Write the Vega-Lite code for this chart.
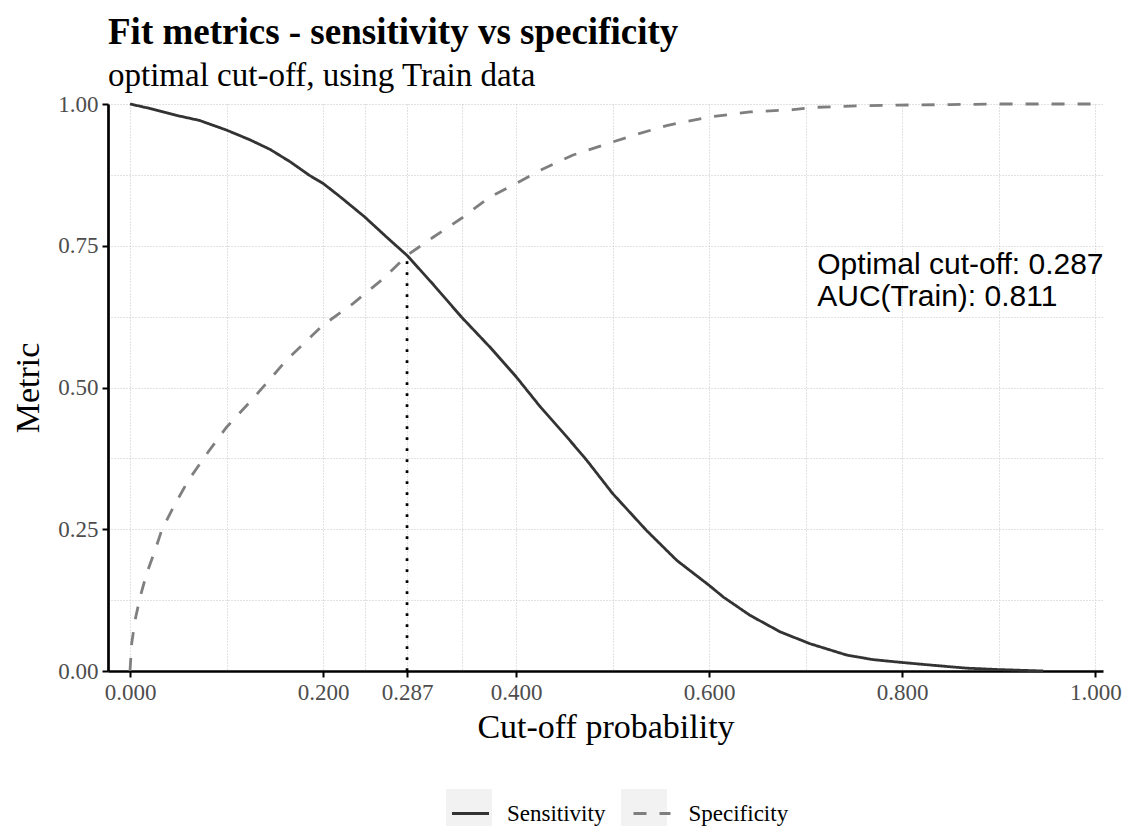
{
  "$schema": "https://vega.github.io/schema/vega-lite/v6.json",
  "autosize": {"type": "none"},
  "width": 995,
  "height": 567,
  "padding": {"left": 108, "top": 104, "right": 32, "bottom": 155},
  "background": "white",
  "config": {
    "view": {"stroke": null},
    "font": "Liberation Serif"
  },
  "title": {
    "text": "Fit metrics - sensitivity vs specificity",
    "subtitle": "optimal cut-off, using Train data",
    "anchor": "start",
    "frame": "group",
    "font": "Liberation Serif",
    "fontSize": 37,
    "fontWeight": "bold",
    "color": "black",
    "subtitleFont": "Liberation Serif",
    "subtitleFontSize": 33,
    "subtitleColor": "black",
    "subtitlePadding": 8,
    "offset": -1
  },
  "datasets": {
    "curves": [
      {"cutoff": 0.0, "metric": "Sensitivity", "value": 1.0},
      {"cutoff": 0.021, "metric": "Sensitivity", "value": 0.992},
      {"cutoff": 0.048, "metric": "Sensitivity", "value": 0.98},
      {"cutoff": 0.072, "metric": "Sensitivity", "value": 0.971},
      {"cutoff": 0.1, "metric": "Sensitivity", "value": 0.954},
      {"cutoff": 0.124, "metric": "Sensitivity", "value": 0.937},
      {"cutoff": 0.145, "metric": "Sensitivity", "value": 0.92},
      {"cutoff": 0.166, "metric": "Sensitivity", "value": 0.898},
      {"cutoff": 0.186, "metric": "Sensitivity", "value": 0.874},
      {"cutoff": 0.2, "metric": "Sensitivity", "value": 0.86},
      {"cutoff": 0.218, "metric": "Sensitivity", "value": 0.836},
      {"cutoff": 0.243, "metric": "Sensitivity", "value": 0.801},
      {"cutoff": 0.266, "metric": "Sensitivity", "value": 0.765},
      {"cutoff": 0.287, "metric": "Sensitivity", "value": 0.733},
      {"cutoff": 0.314, "metric": "Sensitivity", "value": 0.682},
      {"cutoff": 0.343, "metric": "Sensitivity", "value": 0.625},
      {"cutoff": 0.373, "metric": "Sensitivity", "value": 0.571},
      {"cutoff": 0.4, "metric": "Sensitivity", "value": 0.519},
      {"cutoff": 0.425, "metric": "Sensitivity", "value": 0.466},
      {"cutoff": 0.4525, "metric": "Sensitivity", "value": 0.413},
      {"cutoff": 0.473, "metric": "Sensitivity", "value": 0.372},
      {"cutoff": 0.5, "metric": "Sensitivity", "value": 0.313},
      {"cutoff": 0.535, "metric": "Sensitivity", "value": 0.248},
      {"cutoff": 0.5665, "metric": "Sensitivity", "value": 0.195},
      {"cutoff": 0.6, "metric": "Sensitivity", "value": 0.151},
      {"cutoff": 0.615, "metric": "Sensitivity", "value": 0.13},
      {"cutoff": 0.6425, "metric": "Sensitivity", "value": 0.098},
      {"cutoff": 0.6736, "metric": "Sensitivity", "value": 0.069},
      {"cutoff": 0.7047, "metric": "Sensitivity", "value": 0.048},
      {"cutoff": 0.7427, "metric": "Sensitivity", "value": 0.028},
      {"cutoff": 0.77, "metric": "Sensitivity", "value": 0.02},
      {"cutoff": 0.8, "metric": "Sensitivity", "value": 0.015},
      {"cutoff": 0.8325, "metric": "Sensitivity", "value": 0.01},
      {"cutoff": 0.867, "metric": "Sensitivity", "value": 0.005},
      {"cutoff": 0.9, "metric": "Sensitivity", "value": 0.0025},
      {"cutoff": 0.946, "metric": "Sensitivity", "value": 0.0},
      {"cutoff": 0.0, "metric": "Specificity", "value": 0.0},
      {"cutoff": 0.0017, "metric": "Specificity", "value": 0.048},
      {"cutoff": 0.0052, "metric": "Specificity", "value": 0.089},
      {"cutoff": 0.0104, "metric": "Specificity", "value": 0.13},
      {"cutoff": 0.0173, "metric": "Specificity", "value": 0.172},
      {"cutoff": 0.026, "metric": "Specificity", "value": 0.213},
      {"cutoff": 0.0328, "metric": "Specificity", "value": 0.248},
      {"cutoff": 0.0449, "metric": "Specificity", "value": 0.289},
      {"cutoff": 0.0604, "metric": "Specificity", "value": 0.336},
      {"cutoff": 0.0795, "metric": "Specificity", "value": 0.383},
      {"cutoff": 0.1, "metric": "Specificity", "value": 0.43},
      {"cutoff": 0.124, "metric": "Specificity", "value": 0.474},
      {"cutoff": 0.138, "metric": "Specificity", "value": 0.501},
      {"cutoff": 0.162, "metric": "Specificity", "value": 0.548},
      {"cutoff": 0.2, "metric": "Specificity", "value": 0.61},
      {"cutoff": 0.231, "metric": "Specificity", "value": 0.648},
      {"cutoff": 0.2625, "metric": "Specificity", "value": 0.692},
      {"cutoff": 0.287, "metric": "Specificity", "value": 0.733},
      {"cutoff": 0.314, "metric": "Specificity", "value": 0.765},
      {"cutoff": 0.343, "metric": "Specificity", "value": 0.798},
      {"cutoff": 0.373, "metric": "Specificity", "value": 0.836},
      {"cutoff": 0.4, "metric": "Specificity", "value": 0.86},
      {"cutoff": 0.425, "metric": "Specificity", "value": 0.883},
      {"cutoff": 0.459, "metric": "Specificity", "value": 0.91},
      {"cutoff": 0.5, "metric": "Specificity", "value": 0.933},
      {"cutoff": 0.522, "metric": "Specificity", "value": 0.945},
      {"cutoff": 0.556, "metric": "Specificity", "value": 0.962},
      {"cutoff": 0.6, "metric": "Specificity", "value": 0.977},
      {"cutoff": 0.6425, "metric": "Specificity", "value": 0.986},
      {"cutoff": 0.687, "metric": "Specificity", "value": 0.99},
      {"cutoff": 0.708, "metric": "Specificity", "value": 0.994},
      {"cutoff": 0.76, "metric": "Specificity", "value": 0.997},
      {"cutoff": 0.795, "metric": "Specificity", "value": 0.998},
      {"cutoff": 0.85, "metric": "Specificity", "value": 0.999},
      {"cutoff": 0.9, "metric": "Specificity", "value": 1.0},
      {"cutoff": 1.0, "metric": "Specificity", "value": 1.0}
    ],
    "legend_keys": [
      {"key": "Sensitivity"},
      {"key": "Specificity"}
    ],
    "optimal": [
      {"cutoff": 0.287, "low": 0.0, "high": 0.733, "label": "Optimal cut-off: 0.287\nAUC(Train): 0.811", "label_x": 0.712, "label_y": 0.7155}
    ]
  },
  "layer": [
    {
      "data": {"name": "legend_keys"},
      "mark": {"type": "point", "filled": true, "shape": "square", "color": "#f2f2f2", "opacity": 0},
      "encoding": {
        "shape": {
          "field": "key",
          "type": "nominal",
          "scale": {"range": ["square", "square"]},
          "legend": {
            "title": null,
            "orient": "none",
            "legendX": 338,
            "legendY": 685,
            "zindex": 0,
            "direction": "horizontal",
            "symbolType": "square",
            "symbolSize": 2116,
            "symbolFillColor": "#f2f2f2",
            "symbolStrokeColor": "#f2f2f2",
            "symbolStrokeWidth": 0,
            "symbolOpacity": 1,
            "labelExpr": "''",
            "labelFont": "Liberation Serif",
            "labelFontSize": 23,
            "labelOffset": 0,
            "columnPadding": 129
          }
        }
      }
    },
    {
      "data": {"name": "curves"},
      "mark": {"type": "line", "strokeWidth": 2.8, "interpolate": "linear"},
      "encoding": {
        "x": {
          "field": "cutoff",
          "type": "quantitative",
          "title": "Cut-off probability",
          "scale": {"domain": [-0.0228, 1.008], "nice": false, "zero": false},
          "axis": {
            "values": [0, 0.1, 0.2, 0.2435, 0.287, 0.3435, 0.4, 0.5, 0.6, 0.7, 0.8, 0.9, 1.0],
            "labelExpr": "indexof([0, 0.2, 0.287, 0.4, 0.6, 0.8, 1], datum.value) >= 0 ? format(datum.value, '.3f') : ''",
            "tickOpacity": {"condition": {"test": "indexof([0, 0.2, 0.287, 0.4, 0.6, 0.8, 1], datum.value) >= 0", "value": 1}, "value": 0},
            "grid": true,
            "gridColor": "#c4c4c4",
            "gridDash": [1, 2],
            "gridWidth": 1,
            "domainColor": "black",
            "domainWidth": 2.7,
            "tickColor": "black",
            "tickWidth": 2,
            "tickSize": 6,
            "labelFont": "Liberation Serif",
            "labelFontSize": 23,
            "labelColor": "#4d4d4d",
            "labelPadding": 4,
            "labelFlush": false,
            "labelOverlap": false,
            "titleFont": "Liberation Serif",
            "titleFontSize": 34,
            "titleFontWeight": "normal",
            "titleColor": "black",
            "titlePadding": 6
          }
        },
        "y": {
          "field": "value",
          "type": "quantitative",
          "title": "Metric",
          "scale": {"domain": [0, 1], "nice": false},
          "axis": {
            "values": [0, 0.125, 0.25, 0.375, 0.5, 0.625, 0.75, 0.875, 1.0],
            "labelExpr": "indexof([0, 0.25, 0.5, 0.75, 1], datum.value) >= 0 ? format(datum.value, '.2f') : ''",
            "tickOpacity": {"condition": {"test": "indexof([0, 0.25, 0.5, 0.75, 1], datum.value) >= 0", "value": 1}, "value": 0},
            "grid": true,
            "gridColor": "#c4c4c4",
            "gridDash": [1, 2],
            "gridWidth": 1,
            "domainColor": "black",
            "domainWidth": 2.7,
            "tickColor": "black",
            "tickWidth": 2,
            "tickSize": 6,
            "labelFont": "Liberation Serif",
            "labelFontSize": 23,
            "labelColor": "#4d4d4d",
            "labelPadding": 4,
            "labelFlush": false,
            "labelOverlap": false,
            "titleFont": "Liberation Serif",
            "titleFontSize": 34,
            "titleFontWeight": "normal",
            "titleColor": "black",
            "titlePadding": 12
          }
        },
        "color": {
          "field": "metric",
          "type": "nominal",
          "scale": {"domain": ["Sensitivity", "Specificity"], "range": ["#333333", "#7f7f7f"]},
          "legend": {
            "title": null,
            "orient": "none",
            "legendX": 342.5,
            "legendY": 689.5,
            "zindex": 1,
            "direction": "horizontal",
            "symbolType": "stroke",
            "symbolSize": 1369,
            "symbolStrokeWidth": 2.8,
            "labelFont": "Liberation Serif",
            "labelFontSize": 23,
            "labelColor": "black",
            "labelOffset": 16.5,
            "columnPadding": 21.5
          }
        },
        "strokeDash": {
          "field": "metric",
          "type": "nominal",
          "scale": {"domain": ["Sensitivity", "Specificity"], "range": [[1, 0], [13, 13]]},
          "legend": {
            "title": null,
            "orient": "none",
            "legendX": 342.5,
            "legendY": 689.5,
            "zindex": 1,
            "direction": "horizontal",
            "symbolType": "stroke",
            "symbolSize": 1369,
            "symbolStrokeWidth": 2.8,
            "labelFont": "Liberation Serif",
            "labelFontSize": 23,
            "labelColor": "black",
            "labelOffset": 16.5,
            "columnPadding": 21.5
          }
        }
      }
    },
    {
      "data": {"name": "optimal"},
      "mark": {"type": "rule", "color": "black", "strokeWidth": 2.7, "strokeDash": [2.7, 8.3]},
      "encoding": {
        "x": {"field": "cutoff", "type": "quantitative"},
        "y": {"field": "low", "type": "quantitative"},
        "y2": {"field": "high"}
      }
    },
    {
      "data": {"name": "optimal"},
      "mark": {"type": "text", "align": "left", "baseline": "middle", "font": "Liberation Sans", "fontSize": 30, "color": "black", "lineBreak": "\n", "lineHeight": 32},
      "encoding": {
        "x": {"field": "label_x", "type": "quantitative"},
        "y": {"field": "label_y", "type": "quantitative"},
        "text": {"field": "label"}
      }
    }
  ]
}
